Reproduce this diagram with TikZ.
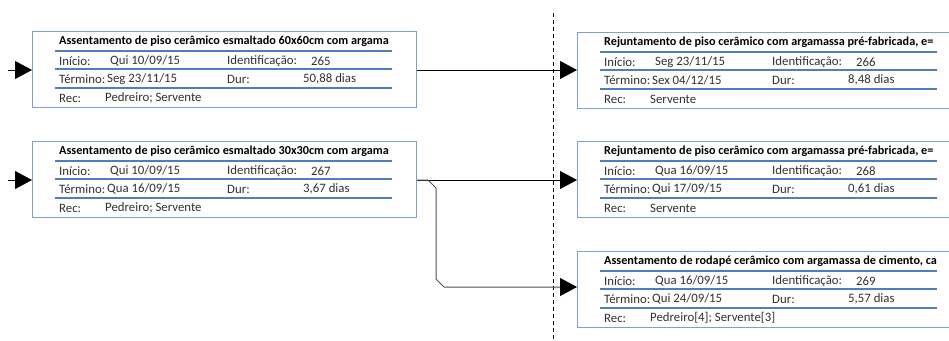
\documentclass[tikz,border=0pt]{standalone}
\usepackage{fontspec}
\setmainfont{Carlito}
\usetikzlibrary{arrows.meta,calc}
\definecolor{boxborder}{HTML}{7F9FD0}
\definecolor{rowline}{HTML}{4F7EC0}
\definecolor{txt}{HTML}{303030}
\definecolor{conngray}{HTML}{505050}
\tikzset{
  taskbox/.style={draw=boxborder, line width=1.4pt, minimum width=384pt, minimum height=76pt, anchor=north west, inner sep=0pt},
  rowrule/.style={draw=rowline, line width=1.1pt},
  celltext/.style={anchor=west, inner sep=0pt, text=txt, font=\fontsize{12.8}{14}\selectfont},
  titletext/.style={anchor=west, inner sep=0pt, text=black, font=\fontsize{12.2}{14}\selectfont\bfseries},
  conn/.style={line width=1pt, -{Triangle[length=17pt,width=18pt,color=black]}},
  divider/.style={line width=1pt, dash pattern=on 4pt off 3pt},
}
\newcommand\taskbox[9]{%
  \node[taskbox] (#1) at (#2,#3) {};
  \begin{scope}
    \clip ($(#1.north west)+(20,2)$) rectangle ($(#1.north west)+(361,19)$);
    \node[titletext] (#1t) at ($(#1.north west)+(27,10)$) {#4};
  \end{scope}
  \draw[rowrule] ($(#1.north west)+(23,20)$) -- ++(337,0);
  \draw[rowrule] ($(#1.north west)+(23,38)$) -- ++(337,0);
  \draw[rowrule] ($(#1.north west)+(23,57)$) -- ++(337,0);
  \node[celltext] (#1a) at ($(#1.north west)+(27,30)$) {Início:};
  \node[celltext] (#1b) at ($(#1.north west)+(78,30)$) {#5};
  \node[celltext] (#1c) at ($(#1.north west)+(195,30)$) {Identificação:};
  \node[celltext] (#1d) at ($(#1.north west)+(279,30)$) {#6};
  \node[celltext] (#1e) at ($(#1.north west)+(27,48)$) {Término:};
  \node[celltext] (#1f) at ($(#1.north west)+(75,48)$) {#7};
  \node[celltext] (#1g) at ($(#1.north west)+(195,48)$) {Dur:};
  \node[celltext] (#1h) at ($(#1.north west)+(271,48)$) {#8};
  \node[celltext] (#1i) at ($(#1.north west)+(27,67)$) {Rec:};
  \node[celltext] (#1j) at ($(#1.north west)+(73,67)$) {#9};
}
\begin{document}
\begin{tikzpicture}[x=1pt,y=-1pt]
  \useasboundingbox (0,0) rectangle (949,340);
  \clip (0,0) rectangle (949,340);

  % divider
  \coordinate (d1) at (553,13);
  \coordinate (d2) at (553,340);
  \draw[divider] (d1) -- (d2);

  \taskbox{b1}{32}{31}{Assentamento de piso cerâmico esmaltado 60x60cm com argama}{Qui 10/09/15}{265}{Seg 23/11/15}{50,88 dias}{Pedreiro; Servente}
  \taskbox{b2}{32}{141}{Assentamento de piso cerâmico esmaltado 30x30cm com argama}{Qui 10/09/15}{267}{Qua 16/09/15}{3,67 dias}{Pedreiro; Servente}
  \taskbox{b3}{577}{32}{Rejuntamento de piso cerâmico com argamassa pré-fabricada, e=}{Seg 23/11/15}{266}{Sex 04/12/15}{8,48 dias}{Servente}
  \taskbox{b4}{577}{141}{Rejuntamento de piso cerâmico com argamassa pré-fabricada, e=}{Qua 16/09/15}{268}{Qui 17/09/15}{0,61 dias}{Servente}
  \taskbox{b5}{577}{251}{Assentamento de rodapé cerâmico com argamassa de cimento, ca}{Qua 16/09/15}{269}{Qui 24/09/15}{5,57 dias}{Pedreiro[4]; Servente[3]}

  % incoming arrows
  \coordinate (in1) at (8,70);
  \coordinate (in2) at (8,180);
  \draw[conn] (in1) -- (in1 -| b1.west);
  \draw[conn] (in2) -- (in2 -| b2.west);

  % links
  \coordinate (o1) at ($(b1.north east)+(0,39)$);
  \draw[conn] (o1) -- (o1 -| b3.west);
  \coordinate (o2) at ($(b2.north east)+(0,39)$);
  \draw[conn] (o2) -- (o2 -| b4.west);
  \coordinate (k1) at (428,180);
  \coordinate (k2) at (436,188);
  \coordinate (k3) at (436,279);
  \coordinate (k4) at (444,287);
  \draw[conn, draw=conngray] (o2) -- (k1) -- (k2) -- (k3) -- (k4) -- (k4 -| b5.west);
\end{tikzpicture}
\end{document}
